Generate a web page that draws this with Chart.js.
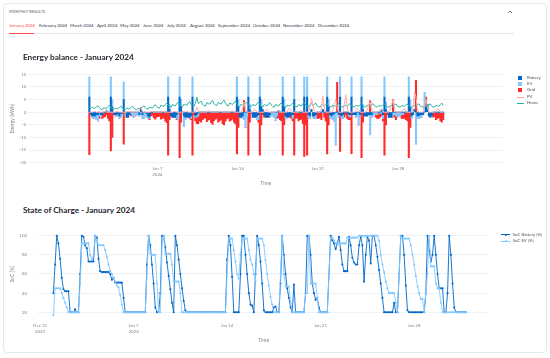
<!DOCTYPE html>
<html>
<head>
<meta charset="utf-8">
<script src="https://cdn.jsdelivr.net/npm/chart.js@4.4.1/dist/chart.umd.min.js"></script>
<style>
  body { margin: 0; background: #fff; font-family: Lato, "Noto Sans", sans-serif; }
  #page { position: relative; width: 550px; height: 358px; overflow: hidden; }
  .card { position: absolute; left: 3px; top: 3px; width: 542px; height: 348px; border: 1px solid #e6e7eb; border-radius: 4px; }
  .t { position: absolute; white-space: nowrap; line-height: 1; }
  .tab { font-size: 4.4px; color: #31333f; top: 24px; }
  .tab.on { color: #ff4b4b; }
  .title { font-size: 8.2px; font-weight: 700; color: #262730; left: 23px; }
  .leg { font-size: 4.3px; color: #555; }
  .sw { position: absolute; }
  canvas { position: absolute; left: 0; }
</style>
</head>
<body>
<div id="page">
  <div class="card"></div>
  <div class="t" style="left:9px;top:10.2px;font-size:3.8px;color:#555;letter-spacing:0.1px">MONTHLY RESULTS</div>
  <svg class="sw" style="left:507px;top:10px" width="6" height="4"><polyline points="1,3 3,1 5,3" fill="none" stroke="#555" stroke-width="0.8"/></svg>

  <div class="t tab on" style="left:9px">January 2024</div>
  <div class="t tab" style="left:39px">February 2024</div>
  <div class="t tab" style="left:70px">March 2024</div>
  <div class="t tab" style="left:97px">April 2024</div>
  <div class="t tab" style="left:120px">May 2024</div>
  <div class="t tab" style="left:143px">June 2024</div>
  <div class="t tab" style="left:167px">July 2024</div>
  <div class="t tab" style="left:190px">August 2024</div>
  <div class="t tab" style="left:218px">September 2024</div>
  <div class="t tab" style="left:253px">October 2024</div>
  <div class="t tab" style="left:283px">November 2024</div>
  <div class="t tab" style="left:318px">December 2024</div>
  <div class="sw" style="left:9px;top:33px;width:505px;height:1px;background:#e6e7eb"></div>
  <div class="sw" style="left:9px;top:32.5px;width:25px;height:1px;background:#ff4b4b"></div>

  <canvas id="energy" width="550" height="150" style="top:45px"></canvas>
  <canvas id="soc" width="550" height="140" style="top:215px"></canvas>

  <div class="t title" style="top:53px">Energy balance - January 2024</div>
  <div class="t title" style="top:206px">State of Charge - January 2024</div>

  <div class="sw" style="left:517.7px;top:75.7px;width:4px;height:4px;background:#0068c9"></div>
  <div class="t leg" style="left:527px;top:75.6px">Battery</div>
  <div class="sw" style="left:517.7px;top:82px;width:4px;height:4px;background:#83c9ff"></div>
  <div class="t leg" style="left:527px;top:81.9px">EV</div>
  <div class="sw" style="left:517.7px;top:88.3px;width:4px;height:4px;background:#ff2b2b"></div>
  <div class="t leg" style="left:527px;top:88.2px">Grid</div>
  <div class="sw" style="left:516.7px;top:96.5px;width:7.3px;height:1px;background:#ffabab"></div>
  <div class="t leg" style="left:527px;top:94.9px">PV</div>
  <div class="sw" style="left:516.7px;top:102.8px;width:7.3px;height:1px;background:#29b09d"></div>
  <div class="t leg" style="left:527px;top:101.2px">Home</div>

  <div class="sw" style="left:501px;top:234.2px;width:9px;height:1px;background:#0068c9"></div>
  <div class="sw" style="left:504.5px;top:233.6px;width:2.2px;height:2.2px;border-radius:50%;background:#0068c9"></div>
  <div class="t leg" style="left:512.7px;top:232.6px">SoC Battery [%]</div>
  <div class="sw" style="left:501px;top:240.8px;width:9px;height:1px;background:#83c9ff"></div>
  <div class="sw" style="left:504.5px;top:240.2px;width:2.2px;height:2.2px;border-radius:50%;background:#83c9ff"></div>
  <div class="t leg" style="left:512.7px;top:239.2px">SoC EV [%]</div>
</div>
<script>
// 3-hour slots, 8 per day, Jan 1 .. Jan 31 (kWh per slot)
const battery = [
  6, -1, -1.5, -1.5, -1.5, -1, -1, 0,
  -1, -1, 0, 0, 0.5, 0, 0, 6,
  2, -0.5, -1, -1, -0.5, -1.5, -0.5, -0.5,
  5, 0, -2, -2, -1, 0, 0, 0,
  0, 0, 0, -1, 1.9, -1, 0, 0,
  -0.5, -1.5, -2, 0, 0, 0, 0, 0,
  0, 0, 0, 0, 0, 0, 0, 6,
  1, -1.5, -2, -2, -2, -1, 0, 6,
  2, 0, -1.5, -2, -2, -2, -2, -1.5,
  6, 0, -1.5, -1, 0, 0, 0, 0,
  0, 0, 0, 0, 0, 0, 0, 0,
  0, 0, 0, 0, 0, 0, 0, 0,
  0, 0, 0, 0, 0, 0, 0, 6,
  2, -2, -2, -1.5, 0, 0, 0, 6,
  1, 0, -2, -2, -2, -1.5, -1, 6,
  2, 1, -1, -2, -2, -2, -1, 0,
  0, 0, 0, 0, 0.5, 0, 0, 6,
  2, -1.5, -2, -2, -1.5, -1, -1, 5,
  0, 0, 0, 0, 0, 0, 6, 0,
  6, -1, -1.5, 1, -1.5, -1.5, -1, 0,
  0, 0, 0, 1, 0, 0, 6, 2,
  -1, -1.5, -1, -0.5, 0, 0, -1, 6,
  -1.5, -1, 0, 0, 0, -1, -1, 6,
  -1, -1, -1, 0, 0, -1, 6, 1,
  -1.5, -1.5, -1.5, -1, -1, -1, 0, 0,
  0, 0, 0, 0, 1, -1, 6, 1,
  0, -2, -2, -2, 0, 0, 0, 0,
  0, 0, 0, 0, 0, 0, 0, 6,
  2, -1.5, -1, 1, 0, -1.5, -1.5, -1,
  -1, -1, 0, 2, 3, -1.5, -2, -1.5,
  0, 0, 0, 0, 0, 0, 0, 0
];
const ev = [
  8, 0, -0.5, -1, -1, -2, -2.5, -1.5,
  -1, 0, 0, 0, 0, 0, 0, 8,
  3, 0, -0.5, -0.5, -1, -1, -1.5, -1,
  7, 0, 0, 0, 0, -0.5, -1.5, -2,
  -1.5, -1.2, -1, -0.5, 0, -1.5, -2.5, -1.5,
  -1.5, -1, -0.5, 0, 0, 0, 0, 0,
  0, 0, 0, 0, 0, 0, 0, 8,
  2, 0, 0, 0, 0, -1.5, -3, 8,
  3, 0, -4, -1, 0, 0, 0, -1,
  8, 0, -0.5, -1, -1.5, 0, 0, 0,
  0, 0, 0, 0, 0, 0, 0, 0,
  0, 0, 0, 0, 0, 0, 0, 0,
  0, 0, 0, 0, 0, 0, 0, 8,
  3, 0, 0, -1, -3, -6, -2, 8,
  2, 0, 0, 0, 0, -1.5, -2, 8,
  3, 0, 0, 0, 0, 0, -1, -1.5,
  -1.5, -2, -3.3, -1.5, 0, 0, 0, 8,
  3, -1, 0, 0, 0, 0, -1.5, 9,
  0, 0, 0, 0, 0, 0, 8, 0,
  8, -1.5, -1, 0, -0.5, -1, -1.5, 0,
  0, 0, 0, 0, 0, 0, 8, 3,
  -1.5, -1, -2, -3, -13, 0, -1, 8,
  -1, -1.5, 0, 0, 0, -0.5, -1, 8,
  0, 0, -1, -1.5, -5, -1, 8, 2,
  0, 0, 0, 0, -8, -1, -1.5, -1,
  -1, -1, 0, -0.5, -0.5, -1.5, 8, 3,
  0, 0, 0, 0, 0, -1, -1.5, -2,
  -1.5, -1.5, -1, -1, 0, 0, 0, 8,
  3, -1, 0, 0, -12.8, -1, -1, -1,
  -1, 0, 7.8, 0, 0, 0, 0, 0,
  0, 0, 0, 0, 0, 0, 0, 0
];
const grid = [
  -16.8, 0, 0, 0, 0, 0, 0, -1,
  0, -1.5, -2, -1.8, -1, -2.5, -3.5, -15.3,
  -10, -0.5, 0, 0, 0, 0, 0, 0,
  -12.7, 0, 0, 0, 0, -1, 0, 0,
  0, 0, 0, 0, 0, 0, 0, 0,
  0, 0, -0.5, -1.5, -1.2, -2.2, -2.8, -2,
  -1.8, -1.6, -2.8, -2.5, -2.3, -3.5, -4.2, -17,
  -3, 0, 0, 0, 0, -0.5, 0, -18,
  -4, 0, 0, 0, 0, 0, -0.5, -0.5,
  -17, -1, -1.5, -2.5, -3, -3.5, -4, -3,
  -2.5, -2.2, -3.8, -3.2, -3, -4.2, -4.8, -3.4,
  -2.8, -2.4, -4, -3.4, -3, -4.5, -5, -3.6,
  -2.6, -2.3, -3.6, -3.2, -2.8, -4, -4.6, -16.5,
  -6, 0, 0, 0, 4.6, 0, 0, -17,
  -4, -0.5, 0, 0, 0, 0, -1, -17,
  -5, -1, -1, 0, 0, 0, 0, 0,
  0, 0, 0, -1, -2.2, -3, -3.5, -17,
  -5, 0, 0, 0, -0.5, -1.5, -1, -17,
  -2.5, -2.2, -3.5, -3, -2.8, -4.5, -17.5, -5,
  -17, 0, 0, 0, 0, 0, 0, -2.5,
  -2.5, -2.2, -3, 0, -2, -3.5, -16.5, -5,
  0, 0, 0, 0, 0, 11.8, 0, -15.5,
  0, 0, -2, -1, -2.5, -1.5, -1, -16.4,
  0, 0, 0, 0, 0, 0, -18, -4,
  0, 0, 0, 0, 4.5, 0, 0, 0,
  -1, -1.5, -2.5, -1.5, -1, -1, -17, -5,
  -1, 0, 0, 0, 5, -1, -1.5, 0,
  0, 0, -1.5, -1.5, -2.5, -3, -3.5, -18,
  -6, 0, 0, 0, 12.6, 0, 0, 0,
  0, 0, 0, 4, 0, 0, 0, 0,
  -2, -1.8, -3, -2.5, -2.2, -3.5, -4, -3
];
const pv = [
  0, 0, 0, 0.2, 0.3, 0, 0, 0,
  0, 0, 0, 0.3, 0.2, 0, 0, 0,
  0, 0, 0, 0.2, 0.2, 0, 0, 0,
  0, 0, 0, 0.4, 0.3, 0, 0, 0,
  0, 0, 0, 1, 2.2, 0.3, 0, 0,
  0, 0, 0, 0.3, 0.3, 0, 0, 0,
  0, 0, 0, 0.2, 0.2, 0, 0, 0,
  0, 0, 0, 0.3, 0.3, 0, 0, 0,
  0, 0, 0, 0.4, 0.3, 0, 0, 0,
  0, 0, 0, 2, 1, 0, 0, 0,
  0, 0, 0, 0.5, 0.4, 0, 0, 0,
  0, 0, 0, 0.3, 0.3, 0, 0, 0,
  0, 0, 0, 0.4, 0.5, 0, 0, 0,
  0, 0, 0, 1.5, 4, 1, 0, 0,
  0, 0, 0, 1, 0.8, 0, 0, 0,
  0, 0, 0, 0.8, 1.2, 0, 0, 0,
  0, 0, 0, 0.6, 0.5, 0, 0, 0,
  0, 0, 0, 1.2, 1.5, 0, 0, 0,
  0, 0, 0, 0.5, 0.6, 0, 0, 0,
  0, 0, 2, 5.5, 3, 0.5, 0, 0,
  0, 0, 1.5, 6.5, 2, 0, 0, 0,
  0, 0, 1, 3, 5, 2, 0, 0,
  0, 0, 3, 7, 2, 0, 0, 0,
  0, 0, 0.5, 1.5, 1, 0, 0, 0,
  0, 0, 1, 3, 4, 1, 0, 0,
  0, 0, 0.5, 1, 1, 0, 0, 0,
  0, 0, 1, 3, 5, 1, 0, 0,
  0, 0, 0.5, 1, 1.5, 0, 0, 0,
  0, 0, 2, 8, 6, 1, 0, 0,
  0, 0, 3, 5, 2, 0, 0, 0,
  0, 0, 0.5, 1.5, 1, 0, 0, 0
];
const home = [
  1.8, 1.5, 2.0, 1.6, 1.5, 2.2, 2.6, 1.8,
  1.2, 1.0, 1.8, 1.6, 1.4, 2.2, 2.8, 2.0,
  1.2, 1.0, 1.6, 1.4, 1.4, 2.0, 2.4, 1.6,
  1.2, 1.0, 1.6, 1.5, 1.3, 1.8, 2.4, 1.6,
  1.2, 1.0, 1.5, 1.4, 1.3, 2.0, 2.6, 1.8,
  1.4, 1.2, 2.0, 1.8, 1.6, 2.4, 3.0, 2.2,
  1.8, 1.6, 2.8, 2.5, 2.3, 3.0, 3.6, 2.6,
  2.2, 2.0, 3.0, 2.8, 2.5, 3.4, 4.0, 3.0,
  2.2, 2.2, 3.2, 3.0, 2.6, 3.6, 4.2, 3.0,
  2.5, 2.2, 3.5, 6.0, 3.5, 3.8, 4.4, 3.2,
  2.6, 2.4, 3.8, 3.4, 3.2, 4.0, 4.6, 3.4,
  2.8, 2.6, 3.9, 3.5, 3.2, 4.2, 4.8, 3.6,
  2.7, 2.5, 3.6, 3.3, 3.1, 3.9, 4.4, 3.2,
  2.4, 2.2, 3.2, 2.8, 2.6, 3.4, 4.0, 3.0,
  2.4, 2.2, 3.0, 2.8, 2.6, 3.4, 4.0, 3.0,
  2.3, 2.1, 3.0, 2.8, 2.5, 3.3, 3.8, 2.8,
  2.2, 2.0, 3.0, 2.8, 2.4, 3.2, 3.6, 2.8,
  2.2, 2.0, 2.8, 2.6, 2.4, 3.1, 3.6, 2.7,
  2.3, 2.1, 3.0, 2.8, 2.5, 3.4, 3.8, 2.8,
  2.3, 2.0, 3.0, 3.5, 2.6, 3.2, 3.6, 2.6,
  2.2, 2.0, 2.8, 3.0, 2.5, 3.0, 3.4, 2.5,
  2.2, 2.0, 2.8, 2.6, 2.4, 3.0, 3.4, 2.5,
  2.2, 2.0, 2.8, 2.6, 2.4, 3.0, 3.4, 2.5,
  2.2, 2.0, 2.7, 2.6, 2.3, 3.0, 3.4, 2.5,
  2.2, 2.0, 2.8, 2.6, 2.4, 3.0, 3.4, 2.5,
  2.1, 2.0, 2.6, 2.5, 2.3, 2.9, 3.3, 2.4,
  2.1, 2.0, 2.6, 2.5, 2.3, 2.9, 3.3, 2.4,
  2.1, 2.0, 2.6, 2.5, 2.3, 2.9, 3.3, 2.4,
  2.1, 2.0, 2.6, 2.5, 2.3, 2.9, 3.3, 2.4,
  2.1, 2.0, 2.6, 2.5, 2.3, 2.9, 3.3, 2.4,
  2.1, 2.0, 2.8, 2.5, 2.3, 3.0, 3.6, 2.6
];
// state of charge in %, same 3-hour slots
const socBattery = [
  40, 70, 100, 92, 76, 56, 44, 42,
  42, 42, 20, 20, 20, 23, 20, 20,
  60, 100, 99, 90, 87, 73, 73, 73,
  73, 100, 98, 76, 63, 62, 62, 62,
  62, 62, 60, 54, 56, 51, 51, 51,
  51, 51, 35, 20, 20, 20, 20, 20,
  20, 20, 20, 20, 20, 20, 20, 20,
  70, 100, 90, 70, 50, 25, 20, 20,
  40, 100, 100, 88, 72, 58, 44, 30,
  20, 100, 90, 75, 60, 45, 32, 22,
  20, 20, 20, 20, 20, 20, 20, 20,
  20, 20, 20, 20, 20, 20, 20, 20,
  20, 20, 20, 20, 20, 20, 20, 20,
  75, 100, 90, 57, 20, 20, 20, 20,
  60, 100, 100, 80, 60, 40, 28, 27,
  20, 60, 100, 90, 73, 50, 22, 20,
  20, 20, 20, 20, 25, 26, 20, 20,
  50, 100, 80, 60, 45, 35, 25, 20,
  49, 20, 20, 20, 20, 20, 20, 40,
  100, 100, 80, 50, 40, 33, 35, 25,
  20, 20, 20, 20, 20, 60, 100, 95,
  92, 86, 92, 99, 85, 70, 63, 63,
  63, 99, 90, 77, 72, 70, 70, 90,
  99, 90, 52, 80, 99, 95, 71, 100,
  100, 90, 78, 64, 50, 35, 20, 20,
  20, 20, 20, 20, 30, 20, 20, 60,
  100, 100, 80, 48, 22, 20, 20, 20,
  20, 20, 20, 20, 20, 20, 20, 40,
  100, 85, 73, 80, 100, 80, 60, 45,
  45, 45, 20, 20, 40, 100, 80, 50,
  25, 20, 20, 20, 20, 20, 20, 20
];
const socEv = [
  17, 45, 45, 45, 45, 40, 35, 30,
  25, 20, 20, 20, 20, 20, 20, 20,
  50, 92, 92, 92, 92, 92, 80, 75,
  80, 100, 95, 90, 90, 90, 90, 85,
  78, 70, 63, 60, 56, 52, 48, 46,
  38, 28, 20, 20, 20, 20, 20, 20,
  20, 20, 20, 20, 20, 20, 20, 20,
  60, 100, 82, 80, 80, 80, 50, 20,
  20, 90, 100, 81, 81, 81, 81, 70,
  52, 52, 52, 52, 40, 20, 20, 20,
  20, 20, 20, 20, 20, 20, 20, 20,
  20, 20, 20, 20, 20, 20, 20, 20,
  20, 20, 20, 20, 20, 20, 20, 20,
  60, 97, 97, 97, 85, 73, 60, 55,
  80, 97, 97, 97, 97, 85, 75, 70,
  60, 53, 97, 97, 97, 97, 90, 75,
  60, 48, 36, 28, 20, 20, 20, 20,
  60, 100, 60, 47, 47, 47, 30, 20,
  20, 20, 20, 20, 20, 20, 20, 40,
  40, 100, 50, 50, 50, 50, 35, 20,
  20, 20, 20, 20, 20, 60, 98, 98,
  95, 92, 92, 92, 92, 92, 92, 92,
  98, 98, 98, 98, 98, 98, 98, 100,
  100, 100, 100, 100, 100, 100, 100, 100,
  100, 100, 100, 95, 80, 70, 62, 52,
  45, 40, 40, 40, 40, 30, 20, 60,
  100, 97, 97, 97, 97, 97, 90, 80,
  70, 58, 47, 40, 34, 34, 20, 40,
  60, 100, 68, 68, 68, 50, 45, 45,
  30, 20, 20, 20, 20, 20, 20, 20,
  20, 20, 20, 20, 20, 20, 20, 20
];
// x ticks, in hours from Jan 1 00:00
const tickHours = [-24, 144, 312, 480, 648];
const tickLabels = [["Dec 31", "2023"], ["Jan 7", "2024"], "Jan 14", "Jan 21", "Jan 28"];
const socTicks = [20, 40, 60, 80, 100];

const slotCenter = battery.map((v, i) => i * 3 + 1.5);
const slotStart = socBattery.map((v, i) => i * 3);
const pts = (xs, ys) => ys.map((y, i) => ({ x: xs[i], y: y }));

const FONT = 'Lato, "Noto Sans", sans-serif';
const grey = '#808495';
const gridColor = '#eceef2';
const tickFont = { family: FONT, size: 4.4, lineHeight: 1.35 };
const titleFont = { family: FONT, size: 5 };

function timeAxis(min, max, height, tickPad, titlePad) {
  return {
    type: 'linear', min: min, max: max, stacked: true,
    grid: { display: false, drawTicks: false },
    border: { display: false },
    ticks: {
      autoSkip: false, maxRotation: 0, padding: tickPad, color: grey, font: tickFont,
      callback: v => tickLabels[tickHours.indexOf(v)]
    },
    afterBuildTicks: s => { s.ticks = tickHours.filter(h => h >= min && h <= max).map(h => ({ value: h })); },
    afterFit: s => { s.height = height; },
    title: { display: true, text: 'Time', color: grey, font: titleFont, padding: { top: 0, bottom: titlePad } }
  };
}

new Chart(document.getElementById('energy'), {
  type: 'bar',
  data: {
    datasets: [
      { label: 'Battery', data: pts(slotCenter, battery), backgroundColor: '#0068c9', order: 1 },
      { label: 'EV', data: pts(slotCenter, ev), backgroundColor: '#83c9ff', order: 1 },
      { label: 'Grid', data: pts(slotCenter, grid), backgroundColor: '#ff2b2b', order: 1 },
      { type: 'line', label: 'PV', stack: 'pv', data: pts(slotCenter, pv), borderColor: '#ffabab', borderWidth: 1, pointRadius: 0, order: 0 },
      { type: 'line', label: 'Home', stack: 'home', data: pts(slotCenter, home), borderColor: '#29b09d', borderWidth: 1, pointRadius: 0, order: 0 }
    ]
  },
  options: {
    responsive: false, animation: false, devicePixelRatio: 1,
    layout: { padding: { left: 0, right: 46.7, top: 29.3, bottom: 0 } },
    datasets: { bar: { barPercentage: 1, categoryPercentage: 1, borderWidth: 0 } },
    plugins: { legend: { display: false }, tooltip: { enabled: false } },
    scales: {
      x: timeAxis(-2, 744, 32.3, 3.2, 9),
      y: {
        min: -20, max: 15, stacked: true,
        ticks: { stepSize: 5, padding: 2, color: grey, font: tickFont },
        grid: { color: gridColor, drawTicks: false, lineWidth: 0.8 },
        border: { display: false },
        title: { display: true, text: 'Energy [kWh]', color: grey, font: titleFont, padding: { top: 9.2 } },
        afterFit: s => { s.width = 28.3; }
      }
    }
  }
});

new Chart(document.getElementById('soc'), {
  type: 'line',
  data: {
    datasets: [
      { label: 'SoC Battery [%]', data: pts(slotStart, socBattery), borderColor: '#0068c9', backgroundColor: '#0068c9', order: 1 },
      { label: 'SoC EV [%]', data: pts(slotStart, socEv), borderColor: '#83c9ff', backgroundColor: '#83c9ff', order: 0 }
    ]
  },
  options: {
    responsive: false, animation: false, devicePixelRatio: 1,
    layout: { padding: { left: 0, right: 60.7, top: 16.9, bottom: 0 } },
    elements: { line: { borderWidth: 0.9, tension: 0 }, point: { radius: 1.05, borderWidth: 0 } },
    plugins: { legend: { display: false }, tooltip: { enabled: false } },
    scales: {
      x: timeAxis(-27.7, 783, 38.9, 6.8, 12),
      y: {
        min: 16, max: 104,
        ticks: { padding: 11, color: grey, font: tickFont },
        afterBuildTicks: s => { s.ticks = socTicks.map(v => ({ value: v })); },
        grid: { color: gridColor, drawTicks: false, lineWidth: 0.8 },
        border: { display: false },
        title: { display: true, text: 'SoC [%]', color: grey, font: titleFont, padding: { top: 9.2 } },
        afterFit: s => { s.width = 38; }
      }
    }
  }
});
</script>
</body>
</html>
